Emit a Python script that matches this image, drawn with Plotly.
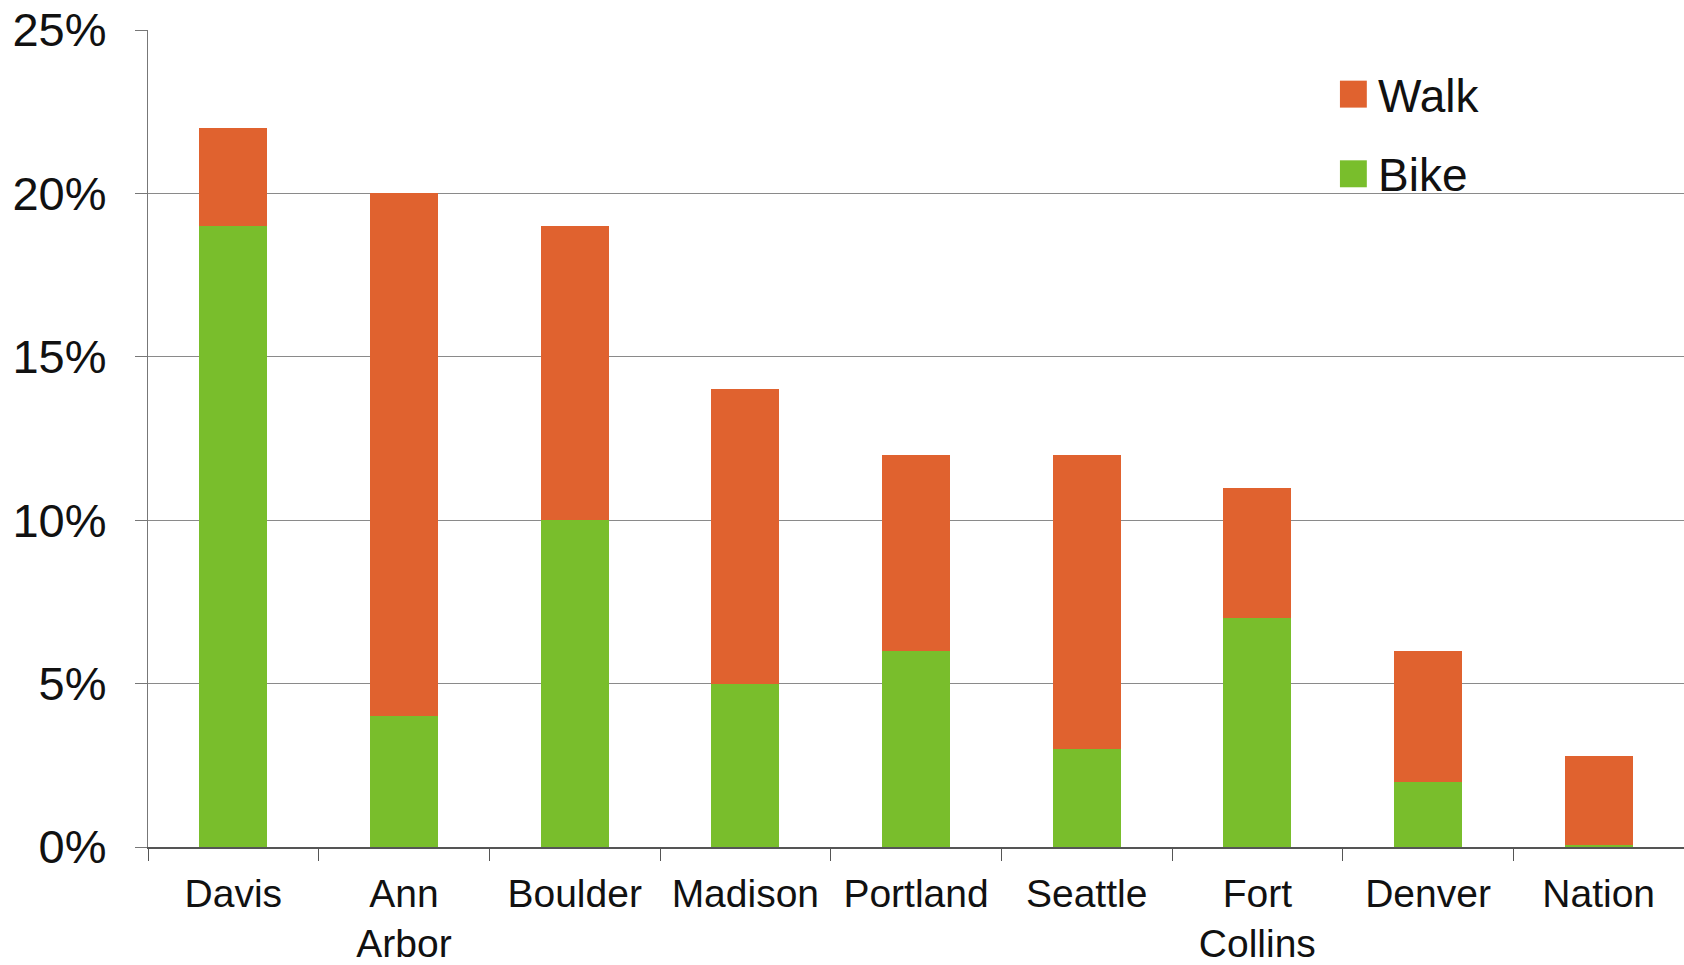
import plotly.graph_objects as go

cities = ["Davis", "Ann<br>Arbor", "Boulder", "Madison", "Portland",
          "Seattle", "Fort<br>Collins", "Denver", "Nation"]
bike = [19, 4, 10, 5, 6, 3, 7, 2, 0.05]
walk = [3, 16, 9, 9, 6, 9, 4, 4, 2.75]
y_ticks = [0, 5, 10, 15, 20, 25]
y_tick_text = ["0%", "5%", "10%", "15%", "20%", "25%"]

BIKE_COLOR = "#79BE2C"
WALK_COLOR = "#E0622F"
FONT = "Liberation Sans, Arial, sans-serif"

fig = go.Figure()
fig.add_trace(go.Bar(x=cities, y=bike, name="Bike", showlegend=False,
                     marker=dict(color=BIKE_COLOR, line=dict(width=0))))
fig.add_trace(go.Bar(x=cities, y=walk, name="Walk", showlegend=False,
                     marker=dict(color=WALK_COLOR, line=dict(width=0))))

# Legend drawn as large colour swatches with labels (top-right of the plot)
legend_items = [("Walk", WALK_COLOR, 0.9215), ("Bike", BIKE_COLOR, 0.824)]
swatch_x0, swatch_x1 = 0.776, 0.7935
half_h = 0.0165
for label, color, yc in legend_items:
    fig.add_shape(type="rect", xref="paper", yref="paper",
                  x0=swatch_x0, x1=swatch_x1, y0=yc - half_h, y1=yc + half_h,
                  fillcolor=color, line=dict(width=0), layer="above")
    fig.add_annotation(xref="paper", yref="paper", x=0.7995, y=yc - 0.002,
                       text=label, showarrow=False, xanchor="left", yanchor="middle",
                       font=dict(size=46, color="#111111"))

fig.update_layout(
    width=1684, height=965,
    barmode="stack", bargap=0.6,
    plot_bgcolor="white", paper_bgcolor="white",
    margin=dict(l=148, r=0, t=30, b=118, autoexpand=False),
    font=dict(family=FONT, color="#111111"),
    showlegend=False,
)
fig.update_xaxes(
    showline=True, linecolor="#555555", linewidth=1.5,
    ticks="outside", tickson="boundaries", ticklen=12, tickcolor="#555555",
    tickfont=dict(size=39), showgrid=False, ticklabelstandoff=11,
    automargin=False,
)
fig.update_yaxes(
    range=[0, 25], tickvals=y_ticks, ticktext=y_tick_text,
    showline=True, linecolor="#777777", linewidth=1.2,
    ticks="outside", ticklen=12, tickcolor="#777777",
    showgrid=True, gridcolor="#8a8a8a", gridwidth=1.2,
    tickfont=dict(size=47), zeroline=False, ticklabelstandoff=19,
    automargin=False,
)

fig.write_html("out.html")
